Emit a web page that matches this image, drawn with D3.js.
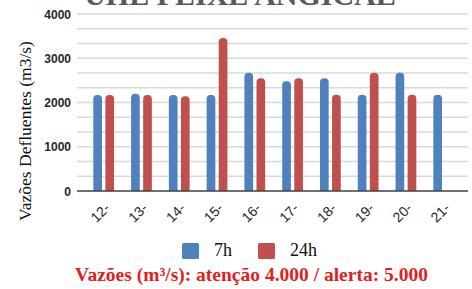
<!DOCTYPE html>
<html><head><meta charset="utf-8">
<script src="https://cdn.jsdelivr.net/npm/d3@7"></script>
<style>html,body{margin:0;padding:0;background:#fff;overflow:hidden}</style>
</head><body>
<script>
const categories = ["12-","13-","14-","15-","16-","17-","18-","19-","20-","21-"];
const series = ["7h","24h"];
const values7h  = [2170, 2200, 2170, 2170, 2675, 2480, 2550, 2175, 2675, 2175];
const values24h = [2170, 2170, 2140, 3455, 2550, 2550, 2175, 2675, 2175, null];
const yTicks = [0, 1000, 2000, 3000, 4000];
const colors = {"7h":"#4f81bd","24h":"#c0504d"};
const title = "UHE PEIXE ANGICAL";
const yTitle = "Vazões Defluentes (m3/s)";
const note = "Vazões (m³/s): atenção 4.000 / alerta: 5.000";

const SERIF = "'Liberation Serif', 'Times New Roman', Times, 'DejaVu Serif', serif";
const SANS = "'Liberation Sans', Arial, Helvetica, sans-serif";

const W = 472, H = 289;
const svg = d3.select("body").append("svg").attr("width", W).attr("height", H);

const y = d3.scaleLinear().domain([0, 4000]).range([191, 14]);
const x = d3.scaleBand().domain(categories).range([84.8, 462.6]).paddingInner(0.45).paddingOuter(0.225);
const xs = d3.scaleBand().domain(series).range([0, x.bandwidth()]).paddingInner(0.28);

// title (partially clipped at top, as in the reference)
svg.append("text").attr("x", 240).attr("y", 5).attr("text-anchor", "middle")
  .style("font-family", SERIF).attr("font-weight", "bold")
  .attr("font-size", 30).attr("fill", "#595959").text(title);

// gridlines
const gridVals = d3.range(1, 13).map(i => i * 4000 / 12);
svg.append("g").selectAll("line").data(gridVals).join("line")
  .attr("x1", 77).attr("x2", 468).attr("y1", d => y(d)).attr("y2", d => y(d))
  .attr("stroke", "#d9d9d9").attr("stroke-width", 1.5);

// y axis labels
const yAxis = d3.axisLeft(y).tickValues(yTicks).tickSize(0).tickPadding(0).tickFormat(d3.format("d"));
const gy = svg.append("g").attr("transform", "translate(71,0)").call(yAxis);
gy.select(".domain").remove();
gy.selectAll("text").style("font-family", SANS)
  .attr("font-weight", "bold").attr("font-size", 12).attr("fill", "#262626").attr("dy", "0.35em");

// bars
const data = [];
categories.forEach((c, i) => {
  data.push({c, s: "7h", v: values7h[i]});
  if (values24h[i] != null) data.push({c, s: "24h", v: values24h[i]});
});
function barPath(x0, w, yTop, yBot) {
  const r = Math.min(4, w / 2);
  return `M${x0},${yBot}V${yTop + r}A${r},${r} 0 0 1 ${x0 + r},${yTop}H${x0 + w - r}A${r},${r} 0 0 1 ${x0 + w},${yTop + r}V${yBot}Z`;
}
svg.append("g").selectAll("path").data(data).join("path")
  .attr("d", d => barPath(x(d.c) + xs(d.s), xs.bandwidth(), y(d.v), y(0)))
  .attr("fill", d => colors[d.s]);

// x axis
const xAxis = d3.axisBottom(x).tickSize(0).tickPadding(0);
const gx = svg.append("g").attr("transform", `translate(0,${y(0)})`).call(xAxis);
gx.select(".domain").remove();
svg.append("line").attr("x1", 77).attr("x2", 468).attr("y1", y(0)).attr("y2", y(0))
  .attr("stroke", "#404040").attr("stroke-width", 1.5);
gx.selectAll(".tick text")
  .style("font-family", SANS).style("font-size", "14px").attr("fill", "#262626")
  .attr("text-anchor", "end").attr("dy", 0).attr("y", 0)
  .attr("transform", "translate(7,18) rotate(-45)");

// y title
svg.append("text").attr("transform", "translate(31,131) rotate(-90)").attr("text-anchor", "middle")
  .style("font-family", SERIF).attr("font-size", 17.5).attr("fill", "#111").text(yTitle);

// legend
const leg = svg.append("g");
const legItems = [{s: "7h", x: 182}, {s: "24h", x: 258}];
legItems.forEach(d => {
  leg.append("rect").attr("x", d.x).attr("y", 243).attr("width", 17).attr("height", 16).attr("rx", 1.5).attr("fill", colors[d.s]);
  leg.append("text").attr("x", d.x + 32).attr("y", 256).style("font-family", SERIF)
    .attr("font-size", 18).attr("fill", "#111").text(d.s);
});

// note
svg.append("text").attr("x", 251.5).attr("y", 281).attr("text-anchor", "middle")
  .style("font-family", SERIF).attr("font-weight", "bold")
  .attr("font-size", 19.5).attr("fill", "#e31e1e").text(note);
</script>
</body></html>
